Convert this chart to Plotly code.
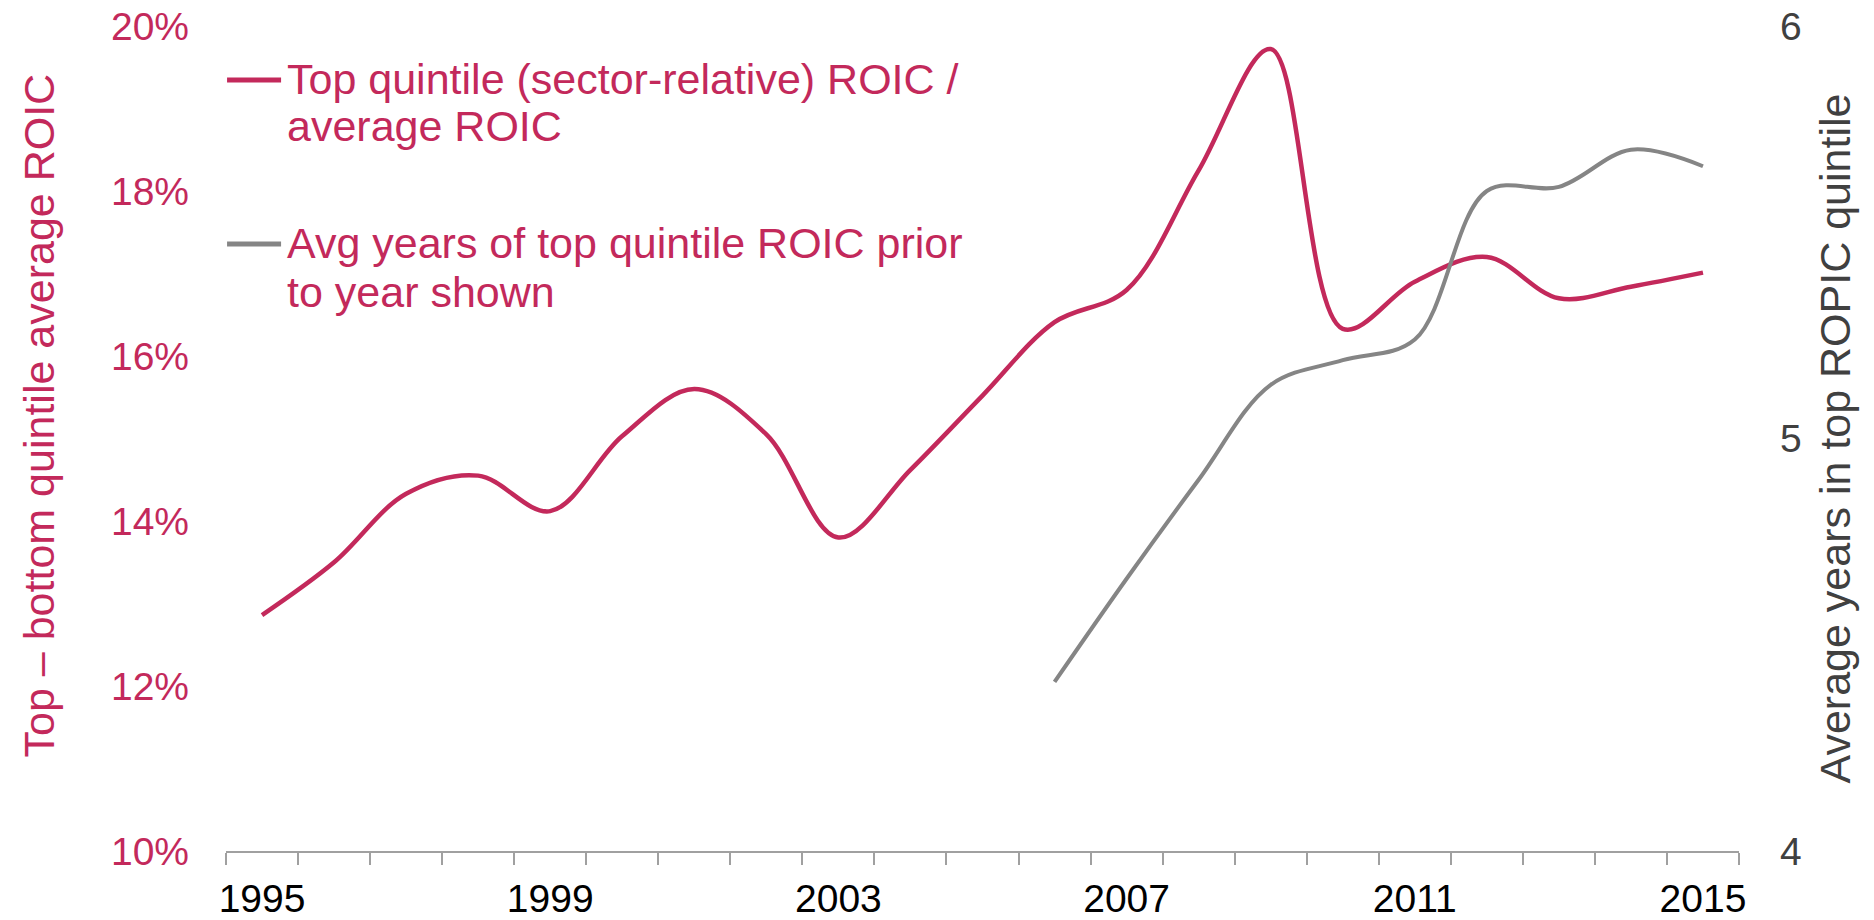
import plotly.graph_objects as go

# Annual series, 1995-2015
years = list(range(1995, 2016))
spread_roic = [12.86, 13.50, 14.33, 14.55, 14.12, 15.03, 15.60, 15.05, 13.80, 14.62,
               15.52, 16.41, 16.80, 18.25, 19.72, 16.33, 16.90, 17.20, 16.70, 16.84, 17.01]
avg_years_years = list(range(2006, 2016))
avg_years = [4.41, 4.66, 4.90, 5.13, 5.19, 5.24, 5.60, 5.61, 5.70, 5.66]

x_tick_years = [1995, 1999, 2003, 2007, 2011, 2015]
left_ticks = [0.10, 0.12, 0.14, 0.16, 0.18, 0.20]
right_ticks = [4, 5, 6]

series_labels = [
    ["Top quintile (sector-relative) ROIC /", "average ROIC"],
    ["Avg years of top quintile ROIC prior", "to year shown"],
]
left_title = "Top \u2013 bottom quintile average ROIC"
right_title = "Average years in top ROPIC quintile"

CRIMSON = "#C3295B"
GREY = "#858585"
DARK = "#404040"
FONT = "Liberation Sans, Arial, sans-serif"

fig = go.Figure()
fig.add_trace(go.Scatter(
    x=years, y=[v / 100 for v in spread_roic],
    mode="lines", line=dict(color=CRIMSON, width=4.5, shape="spline", smoothing=1),
    name=" ".join(series_labels[0]), yaxis="y", showlegend=False,
))
fig.add_trace(go.Scatter(
    x=avg_years_years, y=avg_years,
    mode="lines", line=dict(color=GREY, width=4, shape="spline", smoothing=1),
    name=" ".join(series_labels[1]), yaxis="y2", showlegend=False,
))

# Key: short coloured rule followed by two lines of text per series
key_rows = [(0.9345, [0.9352, 0.8788], CRIMSON), (0.7358, [0.7370, 0.6770], GREY)]
for (rule_y, text_ys, colour), lines in zip(key_rows, series_labels):
    fig.add_shape(type="line", xref="paper", yref="paper",
                  x0=0.0007, x1=0.0364, y0=rule_y, y1=rule_y,
                  line=dict(color=colour, width=5))
    for ty, txt in zip(text_ys, lines):
        fig.add_annotation(xref="paper", yref="paper", x=0.039, y=ty,
                           xanchor="left", yanchor="middle", showarrow=False,
                           text=txt, font=dict(size=43, color=CRIMSON, family=FONT))

# Left axis title, placed slightly above the plot's vertical centre
fig.add_annotation(xref="paper", yref="paper", x=-0.1233, y=0.5285,
                   xanchor="center", yanchor="middle", textangle=-90, showarrow=False,
                   text=left_title, font=dict(size=43, color=CRIMSON, family=FONT))

fig.update_layout(
    width=1874, height=920,
    margin=dict(l=226, r=135, t=26, b=69),
    paper_bgcolor="white", plot_bgcolor="white",
    font=dict(family=FONT),
    showlegend=False,
    xaxis=dict(
        range=[1994.5, 2015.5], automargin=False,
        tickmode="array", tickvals=x_tick_years, ticktext=[str(y) for y in x_tick_years],
        ticks="", ticklabelstandoff=12,
        tickfont=dict(size=39, color="#000000", family=FONT),
        showline=True, linecolor="#A0A0A0", linewidth=1.5,
        showgrid=False, zeroline=False,
        minor=dict(ticks="outside", ticklen=12, tickwidth=1.5, tickcolor="#A0A0A0",
                   tickmode="linear", tick0=1994.5, dtick=1, showgrid=False),
    ),
    yaxis=dict(
        range=[0.10, 0.20], automargin=False,
        tickmode="array", tickvals=left_ticks, tickformat=".0%",
        ticks="", ticklabelstandoff=36,
        tickfont=dict(size=39, color=CRIMSON, family=FONT),
        showline=False, showgrid=False, zeroline=False,
    ),
    yaxis2=dict(
        range=[4, 6], overlaying="y", side="right", automargin=False,
        tickmode="array", tickvals=right_ticks,
        ticks="", ticklabelstandoff=40,
        tickfont=dict(size=39, color=DARK, family=FONT),
        showline=False, showgrid=False, zeroline=False,
        title=dict(text=right_title, standoff=19,
                   font=dict(size=43, color=DARK, family=FONT)),
    ),
)

fig.write_html("out.html")
